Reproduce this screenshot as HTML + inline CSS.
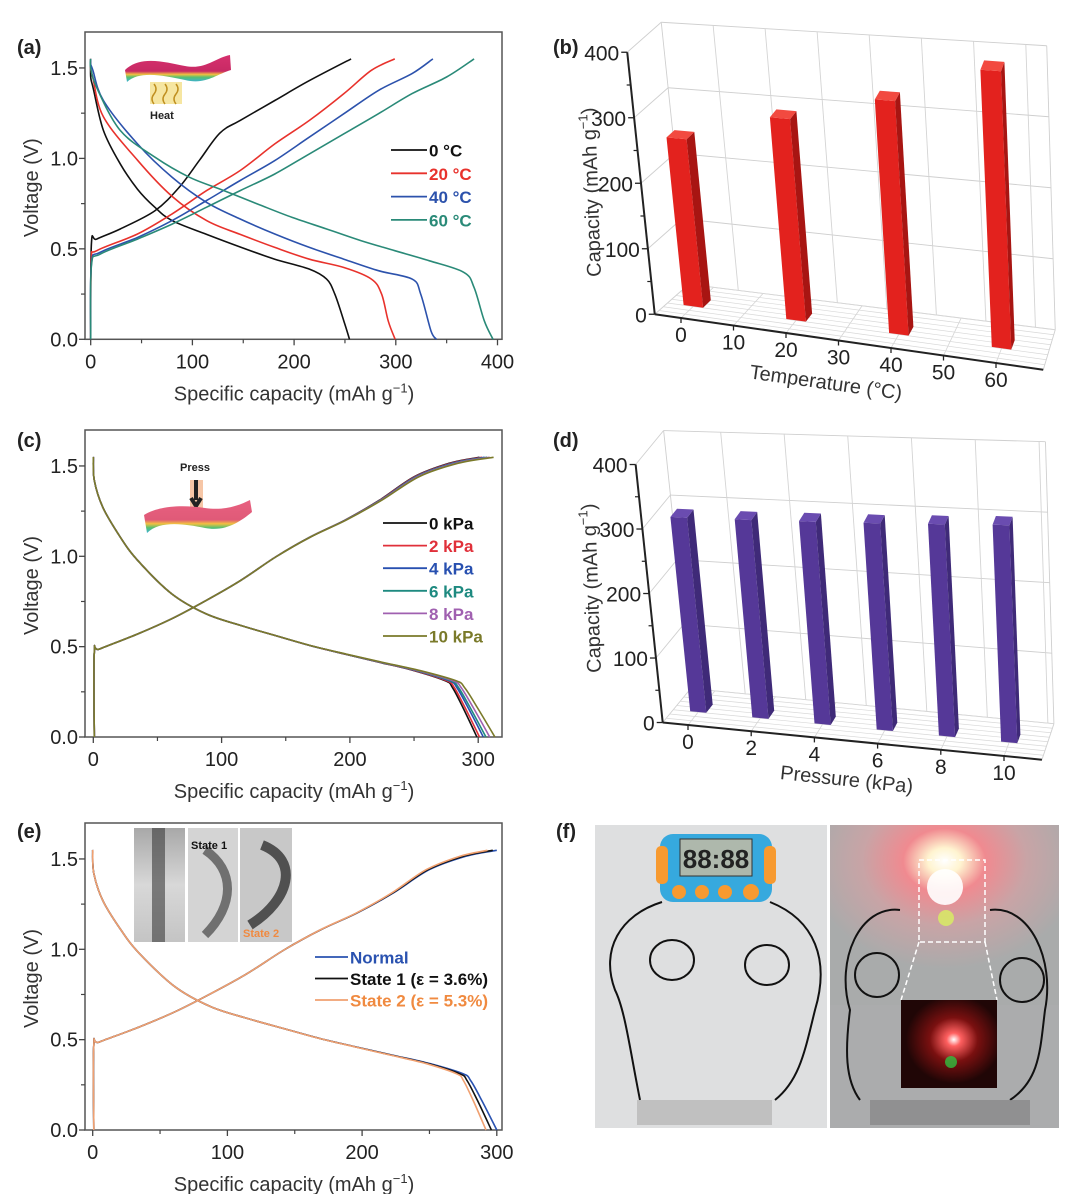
<!DOCTYPE html>
<html><head><meta charset="utf-8">
<style>
html,body{margin:0;padding:0;background:#fff;}
svg{display:block;font-family:"Liberation Sans",Arial,sans-serif;}
</style></head>
<body>
<svg id="fig" width="1080" height="1194" viewBox="0 0 1080 1194">
<defs>
  <linearGradient id="bandG" x1="0" y1="0" x2="0" y2="1">
    <stop offset="0" stop-color="#d6306e"/><stop offset="0.6" stop-color="#c82a64"/>
    <stop offset="0.72" stop-color="#f2c040"/><stop offset="0.82" stop-color="#58c070"/><stop offset="1" stop-color="#3ab0d8"/>
  </linearGradient>
  <linearGradient id="bandP" x1="0" y1="0" x2="0" y2="1">
    <stop offset="0" stop-color="#e86080"/><stop offset="0.6" stop-color="#e05a78"/>
    <stop offset="0.72" stop-color="#f2c040"/><stop offset="0.84" stop-color="#58c070"/><stop offset="1" stop-color="#3ab0d8"/>
  </linearGradient>
  <radialGradient id="glow" cx="0.5" cy="0.2" r="0.6">
    <stop offset="0" stop-color="#ffffff"/><stop offset="0.12" stop-color="#fff4d0"/>
    <stop offset="0.3" stop-color="#f08a90"/><stop offset="0.6" stop-color="#c8a4a6"/><stop offset="1" stop-color="#a9abab"/>
  </radialGradient>
  <radialGradient id="insGlow" cx="0.55" cy="0.45" r="0.5">
    <stop offset="0" stop-color="#ffffff"/><stop offset="0.15" stop-color="#ff6060"/>
    <stop offset="0.5" stop-color="#7a1010"/><stop offset="1" stop-color="#200606"/>
  </radialGradient>
  <linearGradient id="photoG" x1="0" y1="0" x2="0" y2="1">
    <stop offset="0" stop-color="#a8a8a8"/><stop offset="0.5" stop-color="#d8d8d8"/><stop offset="1" stop-color="#c4c4c4"/>
  </linearGradient>
</defs>

<text x="17" y="54" font-size="20" font-weight="bold" fill="#222">(a)</text>
<text x="553" y="54" font-size="20" font-weight="bold" fill="#222">(b)</text>
<text x="17" y="447" font-size="20" font-weight="bold" fill="#222">(c)</text>
<text x="553" y="447" font-size="20" font-weight="bold" fill="#222">(d)</text>
<text x="17" y="838" font-size="20" font-weight="bold" fill="#222">(e)</text>
<text x="556" y="838" font-size="20" font-weight="bold" fill="#222">(f)</text>

<g>
  <rect x="150" y="82" width="32" height="22" fill="#f4e08a" opacity="0.8"/>
  <path d="M154,84 q4,5 0,10 q-4,5 0,10 M165,84 q4,5 0,10 q-4,5 0,10 M176,84 q4,5 0,10 q-4,5 0,10" stroke="#c09020" stroke-width="1.5" fill="none"/>
  <path d="M125,70 C140,55 165,62 185,66 C205,70 215,58 230,55 L231,70 C215,75 205,85 185,80 C165,76 140,70 127,82 Z" fill="url(#bandG)"/>
  <text x="150" y="119" font-size="11" font-weight="bold" fill="#222">Heat</text>
</g>
<g>
  <rect x="190" y="480" width="13" height="30" fill="#f4b890" opacity="0.8"/>
  <path d="M196,480 L196,500 M191,498 L196,506 L201,498" stroke="#222" stroke-width="4" fill="none"/>
  <path d="M144,515 C160,505 185,505 205,508 C225,511 240,505 250,500 L252,512 C240,522 225,532 205,528 C185,524 160,520 147,533 Z" fill="url(#bandP)"/>
  <text x="180" y="471" font-size="11" font-weight="bold" fill="#222">Press</text>
</g>
<g>
  <rect x="134" y="828" width="51" height="114" fill="url(#photoG)"/>
  <rect x="152" y="828" width="13" height="114" fill="#3a3a3a" opacity="0.6"/>
  <rect x="188" y="828" width="50" height="114" fill="#d4d4d4"/>
  <path d="M205,850 C235,870 235,905 205,935" stroke="#707070" stroke-width="9" fill="none"/>
  <rect x="240" y="828" width="52" height="114" fill="#c8c8c8"/>
  <path d="M262,845 C300,860 290,900 250,925" stroke="#505050" stroke-width="10" fill="none"/>
  <text x="191" y="849" font-size="11" font-weight="bold" fill="#111">State 1</text>
  <text x="243" y="937" font-size="11" font-weight="bold" fill="#f08a40">State 2</text>
</g>

<g>
  <rect x="595" y="825" width="232" height="303" fill="#dedfe0"/>
  <rect x="660" y="834" width="112" height="68" rx="13" fill="#36a9de"/>
  <rect x="656" y="846" width="12" height="38" rx="5" fill="#f79a30"/>
  <rect x="764" y="846" width="12" height="38" rx="5" fill="#f79a30"/>
  <rect x="680" y="839" width="72" height="37" fill="#aeb8ac" stroke="#333" stroke-width="1"/>
  <text x="716" y="868" font-size="26" font-weight="bold" text-anchor="middle" fill="#222">88:88</text>
  <circle cx="679" cy="892" r="7" fill="#f79a30"/>
  <circle cx="702" cy="892" r="7" fill="#f79a30"/>
  <circle cx="725" cy="892" r="7" fill="#f79a30"/>
  <circle cx="751" cy="892" r="8" fill="#f79a30"/>
  <path d="M662,902 C620,915 600,950 615,990 C625,1010 630,1050 640,1100 M770,902 C815,920 830,960 815,1010 C805,1050 800,1080 775,1100 M650,960 a22,20 0 1,0 44,0 a22,20 0 1,0 -44,0 M745,965 a22,20 0 1,0 44,0 a22,20 0 1,0 -44,0" stroke="#111" stroke-width="2" fill="none"/>
  <rect x="637" y="1100" width="135" height="25" fill="#b8b8b8" opacity="0.8"/>
  <rect x="830" y="825" width="229" height="303" fill="#abacad"/>
  <rect x="830" y="825" width="229" height="180" fill="url(#glow)"/>
  <circle cx="945" cy="887" r="18" fill="#ffffff" opacity="0.9"/>
  <circle cx="946" cy="918" r="8" fill="#d8f060" opacity="0.8"/>
  <path d="M900,910 C860,905 835,960 850,1010 C845,1050 845,1080 860,1100 M990,910 C1030,905 1055,960 1045,1010 C1040,1050 1040,1080 1010,1100 M855,975 a22,22 0 1,0 44,0 a22,22 0 1,0 -44,0 M1000,980 a22,22 0 1,0 44,0 a22,22 0 1,0 -44,0" stroke="#111" stroke-width="2" fill="none"/>
  <rect x="870" y="1100" width="160" height="25" fill="#8a8a8a" opacity="0.8"/>
  <rect x="919" y="860" width="66" height="82" fill="none" stroke="#fff" stroke-width="1.5" stroke-dasharray="5,3"/>
  <path d="M919,942 L901,1000 M985,942 L997,1000" stroke="#fff" stroke-width="1.5" stroke-dasharray="5,3"/>
  <rect x="901" y="1000" width="96" height="88" fill="url(#insGlow)"/>
  <circle cx="951" cy="1062" r="6" fill="#30c040" opacity="0.8"/>
</g>
</svg>
<script>
// ---------- data: panel (a) ----------
const aLabels = ['0 °C', '20 °C', '40 °C', '60 °C'];
const aDisCap = [
  [0,0,2.4,12.5,29,46,63,80,114,147,181,215,232,240,249,254.5],
  [0,0,2,12.5,46,80,114,147,181,215,249,276,286,292.6,299.4],
  [0,0,2,12.5,46,80,114,147,181,215,249,283,316,324.5,334.6,340],
  [0,0,6,29,63,97,131,164,198,232,266,299,333,367,377,387,395.6]];
const aDisV = [
  [1.55,1.45,1.39,1.155,.97,.83,.73,.656,.58,.51,.443,.388,.333,.25,.10,0],
  [1.55,1.5,1.45,1.23,.99,.79,.656,.58,.508,.443,.397,.333,.25,.10,0],
  [1.55,1.52,1.49,1.32,1.08,.896,.757,.665,.582,.508,.443,.379,.333,.25,.046,0],
  [1.55,1.5,1.39,1.155,1.007,.896,.822,.748,.674,.61,.545,.49,.434,.37,.286,.102,0]];
const aChgCap = [
  [0,0.7,6,29,63,87,107,127,147,181,215,256],
  [0,0.7,6,46,80,114,147,181,215,249,276,299],
  [0,0.7,9,46,80,114,147,181,215,249,283,316,336.5],
  [0,0.7,9,46,80,114,147,181,215,249,283,316,350,377]];
const aChgV = [
  [0,.527,.554,.61,.71,.84,.99,1.14,1.21,1.32,1.43,1.55],
  [0,.434,.49,.582,.693,.822,.933,1.08,1.21,1.358,1.487,1.55],
  [0,.416,.48,.563,.656,.767,.878,.988,1.118,1.247,1.376,1.469,1.55],
  [0,.406,.47,.554,.637,.73,.822,.914,1.025,1.136,1.247,1.358,1.45,1.55]];
const aXTicks = [0,100,200,300,400];
const aXTickLabels = ['0','100','200','300','400'];
// ---------- data: panel (c) ----------
const cLabels = ['0 kPa','2 kPa','4 kPa','6 kPa','8 kPa','10 kPa'];
const cDisCapBase = [0,0.8,7.5,21,34.5,61,88,115,142,169,196,223,250,274,279.5,287.6,298.4];
const cDisVBase = [1.55,1.42,1.27,1.107,.978,.793,.681,.617,.561,.506,.459,.413,.367,.311,.274,.163,0];
const cChgCapBase = [0.8,0.8,5,34.5,61,88,115,142,169,196,223,250,277,300];
const cChgVBase = [0,.469,.487,.57,.654,.756,.867,.996,1.107,1.2,1.311,1.441,1.515,1.548];
const cDisEnd = [299,301,304,306,309,313];
const cChgEnd = [301,303,305,307,309,312];
const cXTicks = [0,100,200,300];
const cXTickLabels = ['0','100','200','300'];
// ---------- data: panel (e) ----------
const eLabels = ['Normal','State 1 (ε = 3.6%)','State 2 (ε = 5.3%)'];
const eDisEnd = [300,296,292];
const eChgEnd = [300,297,293];
const eXTicks = [0,100,200,300];
const eXTickLabels = ['0','100','200','300'];
// ---------- shared y ticks ----------
const vTicks = [0,0.5,1.0,1.5];
const vTickLabels = ['0.0','0.5','1.0','1.5'];
// ---------- data: panel (b) ----------
const bTemps = [0,20,40,60];
const bCapacity = [255,300,340,395];
const bXTicks = [0,10,20,30,40,50,60];
const bXTickLabels = ['0','10','20','30','40','50','60'];
// ---------- data: panel (d) ----------
const dPressures = [0,2,4,6,8,10];
const dCapacity = [300,301,303,305,308,311];
const dXTicks = [0,2,4,6,8,10];
const dXTickLabels = ['0','2','4','6','8','10'];
const zTicks = [0,100,200,300,400];
const zTickLabels = ['0','100','200','300','400'];

const NS = 'http://www.w3.org/2000/svg';
const svg = document.getElementById('fig');
function mk(tag, attrs, parent) {
  const e = document.createElementNS(NS, tag);
  for (const k in attrs) e.setAttribute(k, attrs[k]);
  (parent || svg).appendChild(e);
  return e;
}
function smooth(pts) {
  let d = 'M' + pts[0][0].toFixed(1) + ',' + pts[0][1].toFixed(1);
  for (let i = 0; i < pts.length - 1; i++) {
    const p0 = pts[i - 1] || pts[i], p1 = pts[i], p2 = pts[i + 1], p3 = pts[i + 2] || p2;
    const c1 = [p1[0] + (p2[0] - p0[0]) / 6, p1[1] + (p2[1] - p0[1]) / 6];
    const c2 = [p2[0] - (p3[0] - p1[0]) / 6, p2[1] - (p3[1] - p1[1]) / 6];
    d += 'C' + c1[0].toFixed(1) + ',' + c1[1].toFixed(1) + ' ' + c2[0].toFixed(1) + ',' + c2[1].toFixed(1) + ' ' + p2[0].toFixed(1) + ',' + p2[1].toFixed(1);
  }
  return d;
}

function lineAxes(p) {
  const g = mk('g', {});
  
  
  const fr = mk('rect', {x: 85, y: p.top, width: 417, height: p.bottom - p.top, fill: 'none', stroke: '#555', 'stroke-width': 1.5}, g);
  
  
  p.xTicks.forEach((v, i) => {
    const x = p.xs(v);
    const t = mk('line', {x1: x, y1: p.bottom, x2: x, y2: p.bottom + 6, stroke: '#444', 'stroke-width': 1.3}, g);
    
    
    const lb = mk('text', {x: x, y: p.bottom + 29, 'font-size': 20, fill: '#222', 'text-anchor': 'middle'}, g);
    lb.textContent = p.xLabels[i];
    
    
    if (i < p.xTicks.length - 1) {
      const xm = p.xs((v + p.xTicks[i + 1]) / 2);
      if (xm < 502) {
        const m = mk('line', {x1: xm, y1: p.bottom, x2: xm, y2: p.bottom + 4, stroke: '#444', 'stroke-width': 1.2}, g);
        
        
      }
    }
  });
  vTicks.forEach((v, i) => {
    const y = p.ys(v);
    const t = mk('line', {x1: 85, y1: y, x2: 79, y2: y, stroke: '#444', 'stroke-width': 1.3}, g);
    
    
    const lb = mk('text', {x: 78, y: y + 7, 'font-size': 20, fill: '#222', 'text-anchor': 'end'}, g);
    lb.textContent = vTickLabels[i];
    
    
    const ym = p.ys(v + 0.25);
    if (ym > p.top) {
      const m = mk('line', {x1: 85, y1: ym, x2: 81, y2: ym, stroke: '#444', 'stroke-width': 1.2}, g);
      
      
    }
  });
  const xt = mk('text', {x: 294, y: p.bottom + 61, 'font-size': 20, fill: '#333', 'text-anchor': 'middle'}, g);
  xt.innerHTML = 'Specific capacity (mAh g<tspan font-size="13" dy="-8">−1</tspan><tspan dy="8">)</tspan>';
  
  
  const cy = (p.top + p.bottom) / 2 + 2;
  const yt = mk('text', {x: 38, y: cy, 'font-size': 20, fill: '#333', 'text-anchor': 'middle', transform: 'rotate(-90 38 ' + cy + ')'}, g);
  yt.textContent = 'Voltage (V)';
  
  
}

function curve(p, caps, vs, color, name) {
  const pts = caps.map((c, i) => [p.xs(c), p.ys(vs[i])]);
  const path = mk('path', {d: smooth(pts), fill: 'none', stroke: color, 'stroke-width': 1.6, 'stroke-linejoin': 'round'});
  
  
}
function legend(x, y0, dy, labels, colors, textColors, name, lineLen) {
  labels.forEach((lab, i) => {
    const y = y0 + i * dy;
    const l = mk('line', {x1: x, y1: y, x2: x + lineLen, y2: y, stroke: colors[i], 'stroke-width': 1.8});
    
    
    const t = mk('text', {x: x + lineLen + 2, y: y + 6.5, 'font-size': 17, 'font-weight': 'bold', fill: textColors[i]});
    t.textContent = lab;
    
    
  });
}
function warp(caps, baseEnd, end) {
  return caps.map(c => c + (end - baseEnd) * Math.pow(c / baseEnd, 6));
}

const pA = {name: 'panel-a', top: 32, bottom: 339.3, xs: c => 90.7 + 1.017 * c, ys: v => 339.3 - 180.9 * v, xTicks: aXTicks, xLabels: aXTickLabels};
const aColors = ['#111', '#e8322c', '#2c52ac', '#2a8a78'];
lineAxes(pA);
aLabels.forEach((lab, i) => {
  curve(pA, aDisCap[i], aDisV[i], aColors[i], 'discharge-' + i);
  curve(pA, aChgCap[i], aChgV[i], aColors[i], 'charge-' + i);
});
legend(391, 150, 23.3, aLabels, aColors, aColors, 'temperature', 36);

const pC = {name: 'panel-c', top: 430, bottom: 737, xs: c => 93.3 + 1.283 * c, ys: v => 737 - 180.7 * v, xTicks: cXTicks, xLabels: cXTickLabels};
const cColors = ['#111', '#e0303a', '#2850b0', '#1e8a80', '#a060b0', '#7a7a2a'];
lineAxes(pC);
cLabels.forEach((lab, i) => {
  curve(pC, warp(cDisCapBase, 298.4, cDisEnd[i]), cDisVBase, cColors[i], 'discharge-' + lab);
  curve(pC, warp(cChgCapBase, 300, cChgEnd[i]), cChgVBase, cColors[i], 'charge-' + lab);
});
legend(383, 523, 22.6, cLabels, cColors, cColors, 'pressure', 44);

const pE = {name: 'panel-e', top: 823, bottom: 1130, xs: c => 92.7 + 1.347 * c, ys: v => 1130 - 180.7 * v, xTicks: eXTicks, xLabels: eXTickLabels};
const eColors = ['#2a52b0', '#111', '#f0a070'];
const eText = ['#2a52b0', '#111', '#f08a40'];
lineAxes(pE);
eLabels.forEach((lab, i) => {
  curve(pE, warp(cDisCapBase, 298.4, eDisEnd[i]), cDisVBase, eColors[i], 'discharge-' + i);
  curve(pE, warp(cChgCapBase, 300, eChgEnd[i]), cChgVBase, eColors[i], 'charge-' + i);
});
legend(315, 957, 21.5, eLabels, eColors, eText, 'strain', 33);

function panel3D(q, cats, vals, xt, xl) {
  const proj = (x, d, z) => {
    const e = q.E(x);
    const f = (x - q.xmin) / (q.xmax - q.xmin);
    const s = q.s0 + q.s1 * f;
    const h = z * s;
    const Dx = q.D0[0] + (q.D1[0] - q.D0[0]) * f;
    const Dy = q.D0[1] + (q.D1[1] - q.D0[1]) * f;
    const k = 0.105 - 0.075 * f;
    return [e[0] + d * Dx - k * h, e[1] + d * Dy - h];
  };
  const g = mk('g', {});
  
  
  const gl = (a, b, col, w) => {
    const l = mk('line', {x1: a[0], y1: a[1], x2: b[0], y2: b[1], stroke: col, 'stroke-width': w}, g);
    
    
    return l;
  };
  zTicks.forEach(z => {
    gl(proj(q.xmin, 1, z), proj(q.xmax, 1, z), '#cfcfcf', 0.9);
    gl(proj(q.xmin, 0, z), proj(q.xmin, 1, z), '#cfcfcf', 0.9);
  });
  gl(proj(q.xmin, 1, 0), proj(q.xmin, 1, 400), '#cfcfcf', 0.9);
  gl(proj(q.xmax, 1, 0), proj(q.xmax, 1, 400), '#cfcfcf', 0.9);
  xt.forEach(x => {
    gl(proj(x + q.gs, 1, 0), proj(x + q.gs, 1, 400), '#d4d4d4', 0.9);
    gl(proj(x, 0, 0), proj(x, 1, 0), '#d4d4d4', 0.8);
  });
  for (let k = 1; k <= 8; k++) gl(proj(q.xmin, k / 8, 0), proj(q.xmax, k / 8, 0), '#d8d8d8', 0.7);
  gl(proj(q.xmax, 0, 0), proj(q.xmax, 1, 0), '#cfcfcf', 0.9);
  const ax = gl(proj(q.xmin, 0, 0), proj(q.xmin, 0, 400), '#222', 2);
  
  const fx = gl(proj(q.xmin, 0, 0), proj(q.xmax, 0, 0), '#222', 2);
  
  zTicks.forEach((z, i) => {
    const p = proj(q.xmin, 0, z);
    const t = gl(p, [p[0] - 6, p[1]], '#222', 1.3);
    
    if (z < 400) {
      const pm = proj(q.xmin, 0, z + 50);
      const tm = gl(pm, [pm[0] - 4, pm[1]], '#222', 1.2);
      
    }
    const lb = mk('text', {x: p[0] - 8, y: p[1] + 8, 'font-size': 21, fill: '#222', 'text-anchor': 'end'});
    lb.textContent = zTickLabels[i];
    
    
  });
  xt.forEach((x, i) => {
    const p = proj(x, 0, 0);
    const t = gl(p, [p[0], p[1] + 5], '#222', 1.3);
    
    const lb = mk('text', {x: p[0], y: p[1] + 24, 'font-size': 21, fill: '#222', 'text-anchor': 'middle'});
    lb.textContent = xl[i];
    
    
  });
  cats.forEach((x, i) => {
    const v = vals[i], w = q.bw, d0 = 0.38, d1 = 0.62;
    const poly = (pts, fill, nm) => {
      const e = mk('polygon', {points: pts.map(p => p[0].toFixed(1) + ',' + p[1].toFixed(1)).join(' '), fill: fill});
      
      
    };
    poly([proj(x - w, d0, 0), proj(x + w, d0, 0), proj(x + w, d0, v), proj(x - w, d0, v)], q.cFront, 'bar-' + x + '-front');
    poly([proj(x + w, d0, 0), proj(x + w, d1, 0), proj(x + w, d1, v), proj(x + w, d0, v)], q.cSide, 'bar-' + x + '-side');
    poly([proj(x - w, d0, v), proj(x + w, d0, v), proj(x + w, d1, v), proj(x - w, d1, v)], q.cTop, 'bar-' + x + '-top');
  });
  const yt = mk('text', {x: q.yt[0], y: q.yt[1], 'font-size': 20, fill: '#333', 'text-anchor': 'middle', transform: 'rotate(-92 ' + q.yt[0] + ' ' + q.yt[1] + ')'});
  yt.innerHTML = 'Capacity (mAh g<tspan font-size="13" dy="-8">−1</tspan><tspan dy="8">)</tspan>';
  
  
  const xtt = mk('text', {x: q.xtPos[0], y: q.xtPos[1], 'font-size': 20, fill: '#333', 'text-anchor': 'middle', transform: 'rotate(' + q.xtPos[2] + ' ' + q.xtPos[0] + ' ' + q.xtPos[1] + ')'});
  xtt.textContent = q.xTitle;
  
  
}
panel3D({name: 'panel-b', xmin: -5, xmax: 69, E: t => [681 + 5.25 * t, 318 + 0.75 * t], D0: [34, -30], D1: [12, -40], s0: 0.655, s1: 0.055, bw: 1.9, gs: 5,
  cFront: '#e3221e', cSide: '#a81512', cTop: '#f24a40', yt: [598, 192], xtPos: [825, 389, 8], xTitle: 'Temperature (°C)'},
  bTemps, bCapacity, bXTicks, bXTickLabels);
panel3D({name: 'panel-d', xmin: -0.8, xmax: 11.2, E: p => [688 + 31.6 * p, 725 + 3.1 * p], D0: [28, -34], D1: [12, -36], s0: 0.645, s1: 0.06, bw: 0.26, gs: 1,
  cFront: '#553898', cSide: '#3f2a78', cTop: '#6a4cb0', yt: [598, 588], xtPos: [846, 786, 6], xTitle: 'Pressure (kPa)'},
  dPressures, dCapacity, dXTicks, dXTickLabels);
</script>
</body></html>
